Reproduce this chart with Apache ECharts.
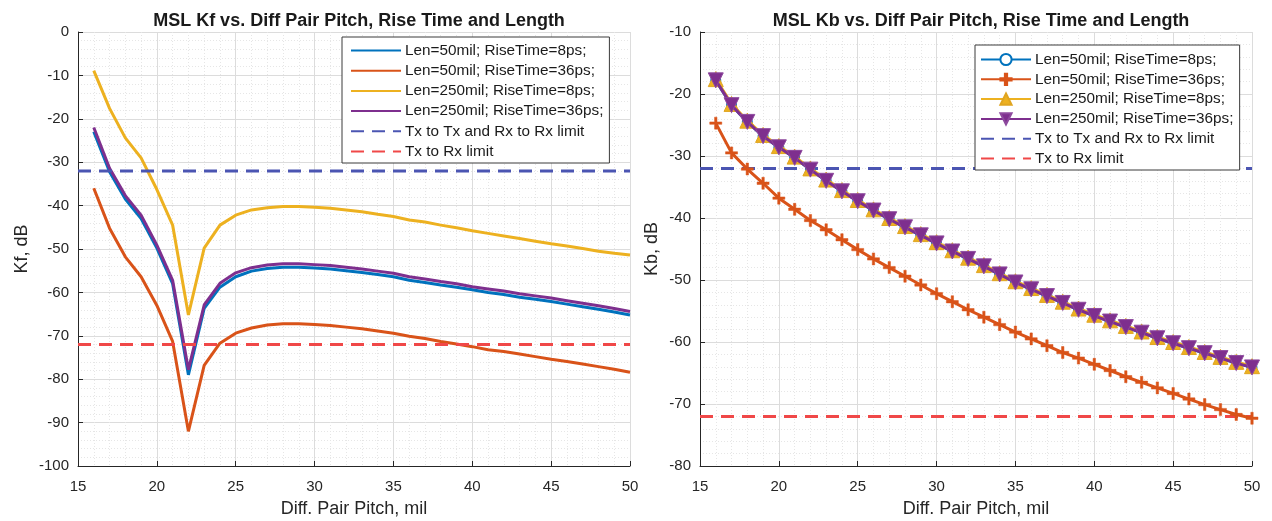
<!DOCTYPE html>
<html>
<head>
<meta charset="utf-8">
<script src="https://cdn.jsdelivr.net/npm/echarts@6/dist/echarts.min.js"></script>
<style>
html,body{margin:0;padding:0;background:#fff;}
#c{width:1272px;height:521px;}
</style>
</head>
<body>
<div id="c"></div>
<script>
// ---- Data ----
const pitch = [16,17,18,19,20,21,22,23,24,25,26,27,28,29,30,31,32,33,34,35,36,37,38,39,40,41,42,43,44,45,46,47,48,49,50];

const seriesNames = [
  'Len=50mil; RiseTime=8ps;',
  'Len=50mil; RiseTime=36ps;',
  'Len=250mil; RiseTime=8ps;',
  'Len=250mil; RiseTime=36ps;'
];
const limitNames = ['Tx to Tx and Rx to Rx limit', 'Tx to Rx limit'];

// Kf (left)
const kf50_8 = [-23,-32.2,-38.5,-43,-49.8,-58,-79,-63.7,-58.8,-56.4,-55.1,-54.5,-54.2,-54.2,-54.4,-54.6,-55,-55.4,-55.9,-56.4,-57.2,-57.7,-58.3,-58.8,-59.4,-60,-60.5,-61.1,-61.6,-62.1,-62.7,-63.3,-63.9,-64.5,-65.2];
const kf50_36 = [-36,-45.2,-51.8,-56.4,-63,-71.3,-92,-76.8,-71.7,-69.4,-68.2,-67.5,-67.2,-67.2,-67.4,-67.6,-68,-68.4,-68.9,-69.4,-70.1,-70.6,-71.3,-71.9,-72.5,-73.2,-73.6,-74.2,-74.8,-75.4,-75.9,-76.5,-77.1,-77.7,-78.4];
const kf250_8 = [-8.9,-17.6,-24.4,-29,-36.3,-44.5,-65.2,-49.8,-44.5,-42.2,-41,-40.5,-40.2,-40.2,-40.4,-40.6,-41,-41.4,-42,-42.5,-43.3,-43.8,-44.5,-45.1,-45.8,-46.4,-47,-47.6,-48.2,-48.8,-49.3,-49.9,-50.5,-51,-51.4];
const kf250_36 = [-22,-31.4,-37.7,-42.2,-49.1,-57.2,-77.8,-62.9,-57.9,-55.5,-54.3,-53.7,-53.4,-53.4,-53.6,-53.8,-54.2,-54.6,-55.1,-55.6,-56.4,-56.9,-57.5,-58,-58.7,-59.2,-59.7,-60.3,-60.8,-61.3,-61.9,-62.5,-63.1,-63.7,-64.4];

// Kb (right)
const kb50_8 = [-17.8,-21.8,-24.5,-26.8,-28.6,-30.3,-32.2,-34,-35.7,-37.3,-38.8,-40.2,-41.5,-42.8,-44.1,-45.4,-46.6,-47.8,-49.1,-50.4,-51.5,-52.6,-53.7,-54.8,-55.8,-56.7,-57.6,-58.5,-59.4,-60.2,-61,-61.8,-62.6,-63.4,-64.1];
const kb50_36 = [-24.7,-29.5,-32.1,-34.4,-36.8,-38.6,-40.4,-41.9,-43.5,-45.1,-46.6,-48,-49.4,-50.8,-52.2,-53.5,-54.8,-56,-57.2,-58.4,-59.5,-60.6,-61.7,-62.6,-63.6,-64.6,-65.6,-66.5,-67.4,-68.3,-69.2,-70.1,-70.9,-71.7,-72.3];
const kb250_8 = [-17.6,-21.6,-24.3,-26.6,-28.4,-30.1,-32,-33.8,-35.5,-37.1,-38.6,-40,-41.3,-42.6,-43.9,-45.2,-46.4,-47.6,-48.9,-50.2,-51.3,-52.4,-53.5,-54.6,-55.6,-56.5,-57.4,-58.3,-59.2,-60,-60.8,-61.6,-62.4,-63.2,-63.9];
const kb250_36 = [-17.8,-21.8,-24.5,-26.8,-28.6,-30.3,-32.2,-34,-35.7,-37.3,-38.8,-40.2,-41.5,-42.8,-44.1,-45.4,-46.6,-47.8,-49.1,-50.4,-51.5,-52.6,-53.7,-54.8,-55.8,-56.7,-57.6,-58.5,-59.4,-60.2,-61,-61.8,-62.6,-63.4,-64.1];

// Limits
const limitX = [15, 50];
const limitTxTx = [-32, -32];
const limitTxRx = [-72, -72];

// Axis ticks
const xTicks = {min: 15, max: 50, interval: 5};
const kfTicks = {min: -100, max: 0, interval: 10};
const kbTicks = {min: -80, max: -10, interval: 10};

// ---- Styling ----
const FONT = 'Arial, "Liberation Sans", Helvetica, sans-serif';
const colors = ['#0072BD', '#D95319', '#EDB120', '#7E2F8E'];
const limitColors = ['#4b55b2', '#f04848'];
// right-plot entries get a trailing space so each plot has its own legend entries
const R = ' ';

function zip(xs, ys){ return xs.map((x,i)=>[x, ys[i]]); }

function xAxis(gi){
  return {
    type: 'value', gridIndex: gi, min: xTicks.min, max: xTicks.max, interval: xTicks.interval,
    name: 'Diff. Pair Pitch, mil', nameLocation: 'middle', nameGap: 34,
    nameTextStyle: {fontFamily: FONT, fontSize: 18, color: '#262626'},
    axisLine: {show: true, onZero: false, lineStyle: {color: '#262626', width: 1}},
    axisTick: {show: true, inside: true, length: 5, lineStyle: {color: '#262626'}},
    axisLabel: {fontFamily: FONT, fontSize: 15, color: '#262626', margin: 13},
    splitLine: {show: true, lineStyle: {color: '#dcdcdc', width: 1}},
    minorTick: {show: false, splitNumber: 5},
    minorSplitLine: {show: true, lineStyle: {color: '#e6e6e6', width: 1, type: [1, 2]}}
  };
}
function yAxis(gi, t, name, gap){
  return {
    type: 'value', gridIndex: gi, min: t.min, max: t.max, interval: t.interval,
    name: name, nameLocation: 'middle', nameGap: gap, nameRotate: 90,
    nameTextStyle: {fontFamily: FONT, fontSize: 18, color: '#262626'},
    axisLine: {show: true, onZero: false, lineStyle: {color: '#262626', width: 1}},
    axisTick: {show: true, inside: true, length: 5, lineStyle: {color: '#262626'}},
    axisLabel: {fontFamily: FONT, fontSize: 15, color: '#262626', margin: 9},
    splitLine: {show: true, lineStyle: {color: '#dcdcdc', width: 1}},
    minorTick: {show: false, splitNumber: 5},
    minorSplitLine: {show: true, lineStyle: {color: '#e6e6e6', width: 1, type: [1, 2]}}
  };
}

const kfData = [kf50_8, kf50_36, kf250_8, kf250_36];
const kbData = [kb50_8, kb50_36, kb250_8, kb250_36];
const limits = [limitTxTx, limitTxRx];

const series = [];
kfData.forEach((d, i) => {
  series.push({
    name: seriesNames[i], type: 'line', xAxisIndex: 0, yAxisIndex: 0,
    data: zip(pitch, d), symbol: 'none', lineStyle: {color: colors[i], width: 3},
    itemStyle: {color: colors[i]}, animation: false, z: 3 + i
  });
});
limits.forEach((d, i) => {
  series.push({
    name: limitNames[i], type: 'line', xAxisIndex: 0, yAxisIndex: 0,
    data: zip(limitX, d), symbol: 'none',
    lineStyle: {color: limitColors[i], width: 3, type: [13, 8]},
    itemStyle: {color: limitColors[i]}, animation: false, z: 10
  });
});

const PLUS = 'path://M4,0H6V4H10V6H6V10H4V6H0V4H4Z';
const kbSym = [
  {symbol: 'emptyCircle', size: 9, rotate: 0, border: colors[0], fill: colors[0], bw: 2},
  {symbol: PLUS, size: 12, rotate: 0, border: colors[1], fill: colors[1], bw: 0.5},
  {symbol: 'triangle', size: 15, rotate: 0, border: '#e0a520', fill: colors[2], bw: 1},
  {symbol: 'triangle', size: 15, rotate: 180, border: '#8e4a9e', fill: colors[3], bw: 1}
];
kbData.forEach((d, i) => {
  const s = kbSym[i];
  series.push({
    name: seriesNames[i] + R, type: 'line', xAxisIndex: 1, yAxisIndex: 1,
    data: zip(pitch, d), symbol: s.symbol, symbolSize: s.size, symbolRotate: s.rotate,
    showSymbol: true, showAllSymbol: true,
    lineStyle: {color: colors[i], width: 3},
    itemStyle: {color: s.fill, borderColor: s.border, borderWidth: s.bw},
    animation: false, z: 3 + i
  });
});
limits.forEach((d, i) => {
  series.push({
    name: limitNames[i] + R, type: 'line', xAxisIndex: 1, yAxisIndex: 1,
    data: zip(limitX, d), symbol: 'none',
    lineStyle: {color: limitColors[i], width: 3, type: [13, 8]},
    itemStyle: {color: limitColors[i]}, animation: false, z: 2
  });
});

function legend(left, top, suffix, gap, showMarkers, pad){
  const data = seriesNames.map(n => showMarkers ? {name: n + suffix}
                                               : {name: n + suffix, itemStyle: {opacity: 0}})
    .concat(limitNames.map(n => ({name: n + suffix, itemStyle: {opacity: 0}})));
  return {
    show: true, orient: 'vertical', left: left, top: top,
    data: data,
    itemWidth: 50, itemHeight: 14, itemGap: gap,
    padding: pad,
    backgroundColor: '#ffffff', borderColor: '#3a3a3a', borderWidth: 1,
    textStyle: {fontFamily: FONT, fontSize: 15.3, color: '#1a1a1a', padding: [0,0,0,-1]},
    selectedMode: false, z: 20
  };
}

const chart = echarts.init(document.getElementById('c'), null, {renderer: 'canvas'});
chart.setOption({
  backgroundColor: '#ffffff',
  animation: false,
  title: [
    {text: 'MSL Kf vs. Diff Pair Pitch, Rise Time and Length', left: 354, top: 7, textAlign: 'center',
     textStyle: {fontFamily: FONT, fontSize: 18, fontWeight: 'bold', color: '#1a1a1a'}},
    {text: 'MSL Kb vs. Diff Pair Pitch, Rise Time and Length', left: 976, top: 7, textAlign: 'center',
     textStyle: {fontFamily: FONT, fontSize: 18, fontWeight: 'bold', color: '#1a1a1a'}}
  ],
  grid: [
    {left: 78, right: 1272 - 630, top: 32, bottom: 521 - 466, containLabel: false, outerBoundsMode: 'none'},
    {left: 700, right: 1272 - 1252, top: 32, bottom: 521 - 466, containLabel: false, outerBoundsMode: 'none'}
  ],
  xAxis: [xAxis(0), xAxis(1)],
  yAxis: [yAxis(0, kfTicks, 'Kf, dB', 47), yAxis(1, kbTicks, 'Kb, dB', 39)],
  legend: [legend(342, 37, '', 5.2, false, [6, 6, 4, 8]), legend(975, 45, R, 4.8, true, [7, 2, 4, 5])],
  series: series
});
</script>
</body>
</html>
